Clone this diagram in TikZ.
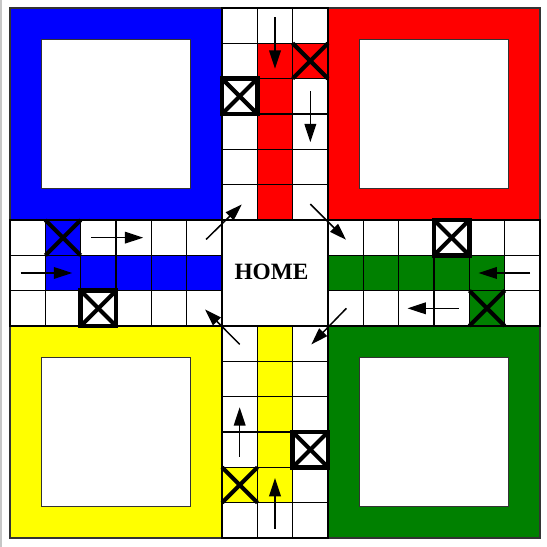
\documentclass[tikz,border=0pt]{standalone}
\usepackage{fontspec}
\setmainfont{Liberation Serif}
\usetikzlibrary{arrows.meta}
\definecolor{ludoblue}{RGB}{0,0,255}
\definecolor{ludored}{RGB}{255,0,0}
\definecolor{ludoyellow}{RGB}{255,255,0}
\definecolor{ludogreen}{RGB}{0,128,0}
\tikzset{
  gridline/.style={draw=black, line width=1.1pt},
  quad/.style={draw=black!80, line width=0.9pt},
  inner/.style={fill=white, draw=black!80, line width=0.9pt},
  crossline/.style={draw=black, line width=3.3pt},
  safebox/.style={draw=black, fill=white, line width=3.8pt},
  movearrow/.style={draw=black, line width=1.2pt, -{Triangle[length=5.2mm,width=3.3mm]}},
  diagarrow/.style={draw=black, line width=1.2pt, -{Triangle[length=4.8mm,width=3.1mm]}},
  hometext/.style={font=\fontsize{18.8}{21}\selectfont\bfseries, text=black}
}
\begin{document}
\begin{tikzpicture}
\useasboundingbox (-0.283,0.226) rectangle (15.198,-15.255);
% frame line at left
\draw[gray!45, line width=1.6pt] (-0.245,0.226) -- (-0.245,-15.255);
% quadrants
\foreach \qx/\qy/\qc in {0/0/ludoblue, 9/0/ludored, 0/-9/ludoyellow, 9/-9/ludogreen}{
  \filldraw[quad, fill=\qc] (\qx,\qy) rectangle ++(6,-6);
  \filldraw[inner] (\qx+0.9,\qy-0.9) rectangle ++(4.2,-4.2);
}
% coloured home columns and start cells
\fill[ludored] (7,-1) rectangle (8,-6);
\fill[ludored] (8,-1) rectangle (9,-2);
\fill[ludoblue] (1,-7) rectangle (6,-8);
\fill[ludoblue] (1,-6) rectangle (2,-7);
\fill[ludogreen] (9,-7) rectangle (14,-8);
\fill[ludogreen] (13,-8) rectangle (14,-9);
\fill[ludoyellow] (7,-9) rectangle (8,-14);
\fill[ludoyellow] (6,-13) rectangle (7,-14);
% track grid
\foreach \c in {6,7,8}{
  \foreach \r in {0,...,5}{ \draw[gridline] (\c,-\r) rectangle ++(1,-1); }
  \foreach \r in {9,...,14}{ \draw[gridline] (\c,-\r) rectangle ++(1,-1); }
}
\foreach \r in {6,7,8}{
  \foreach \c in {0,...,5}{ \draw[gridline] (\c,-\r) rectangle ++(1,-1); }
  \foreach \c in {9,...,14}{ \draw[gridline] (\c,-\r) rectangle ++(1,-1); }
}
% home
\filldraw[gridline, fill=white] (6,-6) rectangle (9,-9);
\node[hometext] (home) at (7.4,-7.48) {HOME};
% crosses on coloured start cells
\foreach \c/\r in {8/1, 1/6, 13/8, 6/13}{
  \draw[crossline] (\c,-\r) -- ++(1,-1);
  \draw[crossline] (\c+1,-\r) -- ++(-1,-1);
}
% boxed safe cells
\foreach \c/\r in {6/2, 12/6, 8/12, 2/8}{
  \filldraw[safebox] (\c,-\r) rectangle ++(1,-1);
  \draw[crossline] (\c,-\r) -- ++(1,-1);
  \draw[crossline] (\c+1,-\r) -- ++(-1,-1);
}
% straight arrows
\draw[movearrow] (7.5,-0.26) -- (7.5,-1.72);
\draw[movearrow] (8.5,-2.36) -- (8.5,-3.8);
\draw[movearrow] (14.72,-7.5) -- (13.26,-7.5);
\draw[movearrow] (12.7,-8.5) -- (11.25,-8.5);
\draw[movearrow] (7.5,-14.74) -- (7.5,-13.3);
\draw[movearrow] (6.5,-12.7) -- (6.5,-11.3);
\draw[movearrow] (0.3,-7.5) -- (1.76,-7.5);
\draw[movearrow] (2.3,-6.5) -- (3.77,-6.5);
% diagonal arrows around home
\draw[diagarrow] (5.55,-6.55) -- (6.56,-5.56);
\draw[diagarrow] (8.5,-5.55) -- (9.51,-6.56);
\draw[diagarrow] (9.52,-8.5) -- (8.53,-9.52);
\draw[diagarrow] (6.5,-9.52) -- (5.52,-8.53);
\end{tikzpicture}
\end{document}
